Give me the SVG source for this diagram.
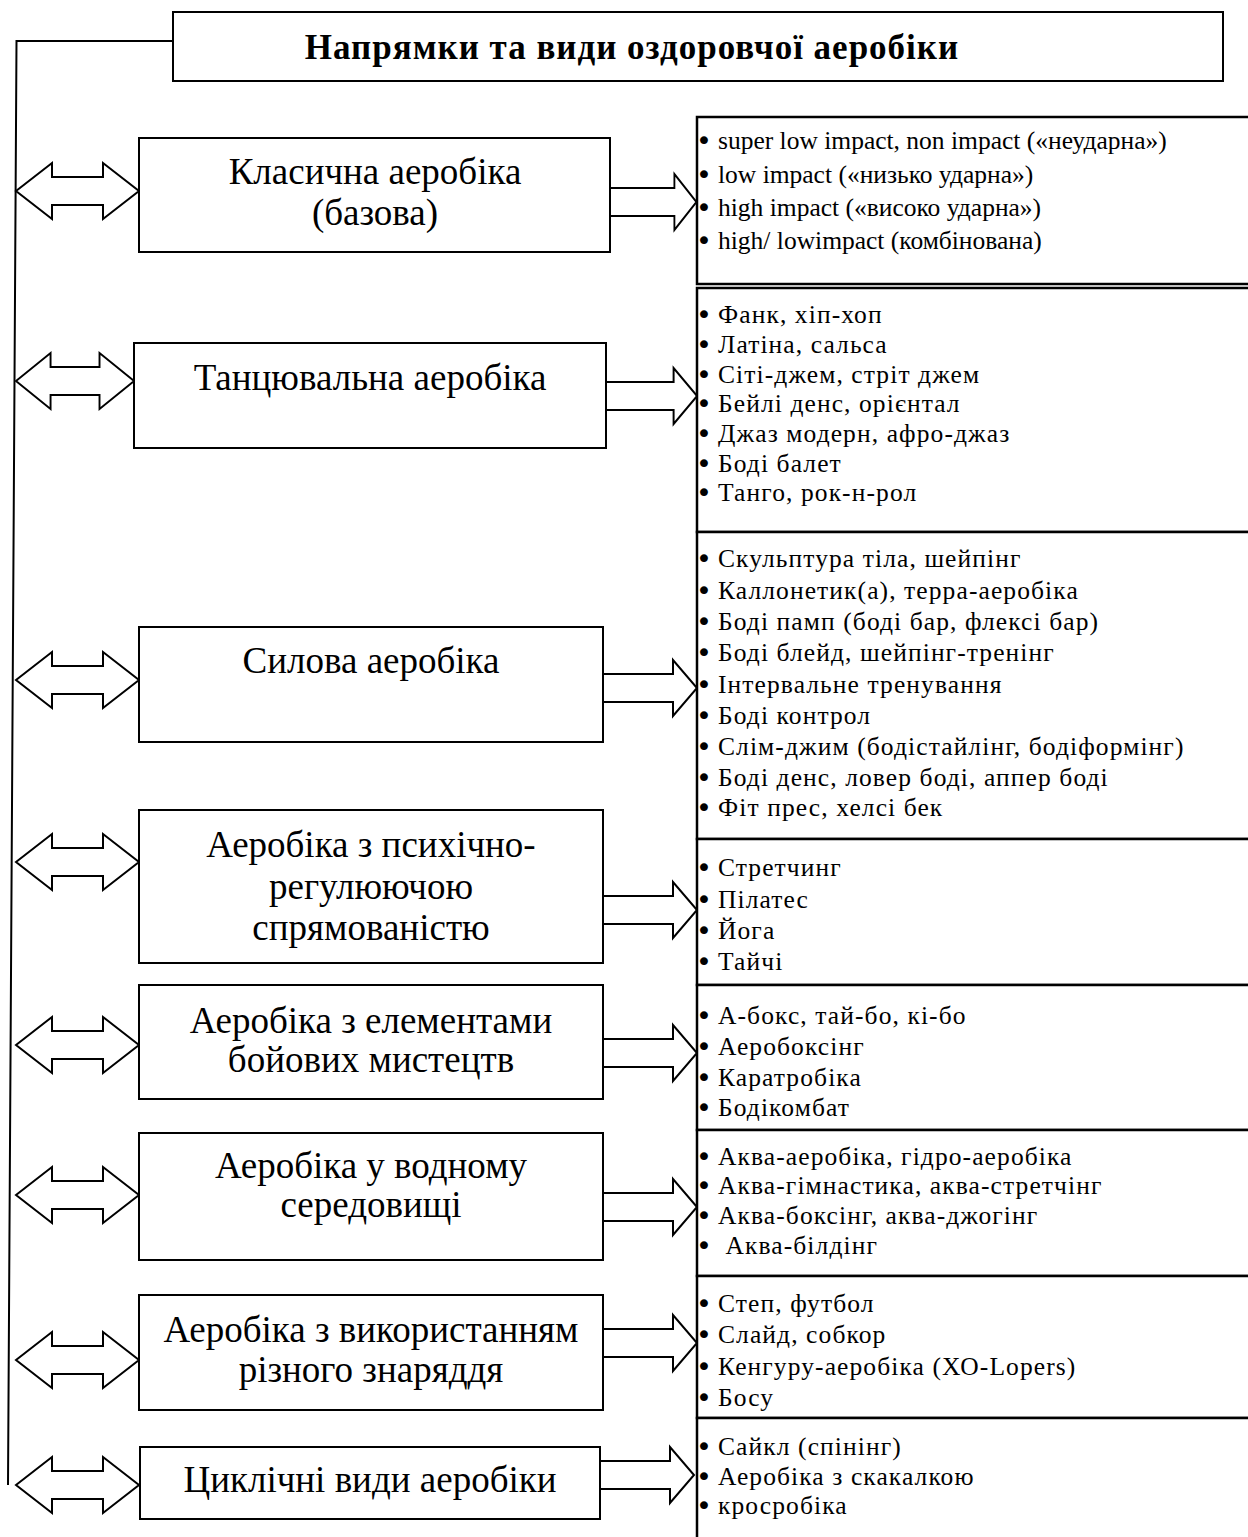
<svg xmlns="http://www.w3.org/2000/svg" width="1248" height="1537" viewBox="0 0 1248 1537">
<style>
.box{fill:#fff;stroke:#000;stroke-width:2}
.lbox{fill:#fff;stroke:#000;stroke-width:2.5}
.arr{fill:#fff;stroke:#000;stroke-width:2;stroke-linejoin:miter}
.ln{fill:none;stroke:#000;stroke-width:2}
.title{font-family:"Liberation Serif","DejaVu Serif",serif;font-size:35px;letter-spacing:1px;font-weight:bold;text-anchor:middle;fill:#000}
.node{font-family:"Liberation Serif","DejaVu Serif",serif;font-size:37px;text-anchor:middle;fill:#000}
.item{font-family:"Liberation Serif","DejaVu Serif",serif;font-size:25.5px;fill:#000}
.cy{letter-spacing:1.1px}
.bul{font-family:"DejaVu Sans",sans-serif;font-size:27px;fill:#000}
</style>
<defs>
<path id="dbl" d="M0,0 L36,-28 L36,-14 L87,-14 L87,-28 L123,0 L87,28 L87,14 L36,14 L36,28 Z"/>
<path id="one" d="M0,-14 L70,-14 L70,-28 L94,0 L70,28 L70,14 L0,14 Z"/>
</defs>

<g id="connectors">
<polyline class="ln" points="173,41 16.5,41 8,1485"/>
<use href="#dbl" class="arr" x="16" y="191"/>
<use href="#dbl" class="arr" transform="translate(16,381) scale(0.96,1)"/>
<use href="#dbl" class="arr" x="16" y="680"/>
<use href="#dbl" class="arr" x="16" y="862"/>
<use href="#dbl" class="arr" x="16" y="1045"/>
<use href="#dbl" class="arr" x="16" y="1195"/>
<use href="#dbl" class="arr" x="16" y="1360"/>
<use href="#dbl" class="arr" x="16" y="1485"/>
<use href="#one" class="arr" transform="translate(610,202) scale(0.92,1)"/>
<use href="#one" class="arr" transform="translate(605,396) scale(0.98,1)"/>
<use href="#one" class="arr" x="603" y="688"/>
<use href="#one" class="arr" x="603" y="910"/>
<use href="#one" class="arr" x="603" y="1053"/>
<use href="#one" class="arr" x="603" y="1207"/>
<use href="#one" class="arr" x="603" y="1343"/>
<use href="#one" class="arr" x="600" y="1475"/>
</g>

<g id="title">
<rect class="box" x="173" y="12" width="1050" height="69"/>
<text class="title" x="632" y="59">Напрямки та види оздоровчої аеробіки</text>
</g>

<g id="n1">
<rect class="box" x="139" y="138" width="471" height="114"/>
<text class="node" x="375" y="184">Класична аеробіка</text>
<text class="node" x="375" y="225">(базова)</text>
</g>
<g id="n2">
<rect class="box" x="134" y="343" width="472" height="105"/>
<text class="node" x="370" y="390">Танцювальна аеробіка</text>
</g>
<g id="n3">
<rect class="box" x="139" y="627" width="464" height="115"/>
<text class="node" x="371" y="673">Силова аеробіка</text>
</g>
<g id="n4">
<rect class="box" x="139" y="810" width="464" height="153"/>
<text class="node" x="371" y="857">Аеробіка з психічно-</text>
<text class="node" x="371" y="899">регулюючою</text>
<text class="node" x="371" y="940">спрямованістю</text>
</g>
<g id="n5">
<rect class="box" x="139" y="985" width="464" height="114"/>
<text class="node" x="371" y="1033">Аеробіка з елементами</text>
<text class="node" x="371" y="1072">бойових мистецтв</text>
</g>
<g id="n6">
<rect class="box" x="139" y="1133" width="464" height="127"/>
<text class="node" x="371" y="1178">Аеробіка у водному</text>
<text class="node" x="371" y="1217">середовищі</text>
</g>
<g id="n7">
<rect class="box" x="139" y="1295" width="464" height="115"/>
<text class="node" x="371" y="1342">Аеробіка з використанням</text>
<text class="node" x="371" y="1382">різного знаряддя</text>
</g>
<g id="n8">
<rect class="box" x="140" y="1447" width="460" height="72"/>
<text class="node" x="370" y="1492">Циклічні види аеробіки</text>
</g>

<g id="l1">
<rect class="lbox" x="697" y="117" width="600" height="167"/>
<text class="bul" x="696" y="150">•</text><text class="item" x="718" y="149">super low impact, non impact («неударна»)</text>
<text class="bul" x="696" y="184">•</text><text class="item" x="718" y="183">low impact («низько ударна»)</text>
<text class="bul" x="696" y="217">•</text><text class="item" x="718" y="216">high impact («високо ударна»)</text>
<text class="bul" x="696" y="250">•</text><text class="item" x="718" y="249">high/ lowimpact (комбінована)</text>
</g>
<g id="l2" class="cy">
<rect class="lbox" x="697" y="288" width="600" height="244"/>
<text class="bul" x="696" y="324">•</text><text class="item" x="718" y="323">Фанк, хіп-хоп</text>
<text class="bul" x="696" y="354">•</text><text class="item" x="718" y="353">Латіна, сальса</text>
<text class="bul" x="696" y="384">•</text><text class="item" x="718" y="383">Сіті-джем, стріт джем</text>
<text class="bul" x="696" y="413">•</text><text class="item" x="718" y="412">Бейлі денс, орієнтал</text>
<text class="bul" x="696" y="443">•</text><text class="item" x="718" y="442">Джаз модерн, афро-джаз</text>
<text class="bul" x="696" y="473">•</text><text class="item" x="718" y="472">Боді балет</text>
<text class="bul" x="696" y="502">•</text><text class="item" x="718" y="501">Танго, рок-н-рол</text>
</g>
<g id="l3" class="cy">
<rect class="lbox" x="697" y="532" width="600" height="307"/>
<text class="bul" x="696" y="568">•</text><text class="item" x="718" y="567">Скульптура тіла, шейпінг</text>
<text class="bul" x="696" y="600">•</text><text class="item" x="718" y="599">Каллонетик(а), терра-аеробіка</text>
<text class="bul" x="696" y="631">•</text><text class="item" x="718" y="630">Боді памп (боді бар, флексі бар)</text>
<text class="bul" x="696" y="662">•</text><text class="item" x="718" y="661">Боді блейд, шейпінг-тренінг</text>
<text class="bul" x="696" y="694">•</text><text class="item" x="718" y="693">Інтервальне тренування</text>
<text class="bul" x="696" y="725">•</text><text class="item" x="718" y="724">Боді контрол</text>
<text class="bul" x="696" y="756">•</text><text class="item" x="718" y="755">Слім-джим (бодістайлінг, бодіформінг)</text>
<text class="bul" x="696" y="787">•</text><text class="item" x="718" y="786">Боді денс, ловер боді, аппер боді</text>
<text class="bul" x="696" y="817">•</text><text class="item" x="718" y="816">Фіт прес, хелсі бек</text>
</g>
<g id="l4" class="cy">
<rect class="lbox" x="697" y="839" width="600" height="146"/>
<text class="bul" x="696" y="877">•</text><text class="item" x="718" y="876">Стретчинг</text>
<text class="bul" x="696" y="909">•</text><text class="item" x="718" y="908">Пілатес</text>
<text class="bul" x="696" y="940">•</text><text class="item" x="718" y="939">Йога</text>
<text class="bul" x="696" y="971">•</text><text class="item" x="718" y="970">Тайчі</text>
</g>
<g id="l5" class="cy">
<rect class="lbox" x="697" y="985" width="600" height="145"/>
<text class="bul" x="696" y="1025">•</text><text class="item" x="718" y="1024">А-бокс, тай-бо, кі-бо</text>
<text class="bul" x="696" y="1056">•</text><text class="item" x="718" y="1055">Аеробоксінг</text>
<text class="bul" x="696" y="1087">•</text><text class="item" x="718" y="1086">Каратробіка</text>
<text class="bul" x="696" y="1117">•</text><text class="item" x="718" y="1116">Бодікомбат</text>
</g>
<g id="l6" class="cy">
<rect class="lbox" x="697" y="1130" width="600" height="146"/>
<text class="bul" x="696" y="1166">•</text><text class="item" x="718" y="1165">Аква-аеробіка, гідро-аеробіка</text>
<text class="bul" x="696" y="1195">•</text><text class="item" x="718" y="1194">Аква-гімнастика, аква-стретчінг</text>
<text class="bul" x="696" y="1225">•</text><text class="item" x="718" y="1224">Аква-боксінг, аква-джогінг</text>
<text class="bul" x="696" y="1255">•</text><text class="item" x="718" y="1254" xml:space="preserve"> Аква-білдінг</text>
</g>
<g id="l7" class="cy">
<rect class="lbox" x="697" y="1276" width="600" height="142"/>
<text class="bul" x="696" y="1313">•</text><text class="item" x="718" y="1312">Степ, футбол</text>
<text class="bul" x="696" y="1344">•</text><text class="item" x="718" y="1343">Слайд, собкор</text>
<text class="bul" x="696" y="1376">•</text><text class="item" x="718" y="1375">Кенгуру-аеробіка (ХО-Lopers)</text>
<text class="bul" x="696" y="1407">•</text><text class="item" x="718" y="1406">Босу</text>
</g>
<g id="l8" class="cy">
<rect class="lbox" x="697" y="1418" width="600" height="150"/>
<text class="bul" x="696" y="1456">•</text><text class="item" x="718" y="1455">Сайкл (спінінг)</text>
<text class="bul" x="696" y="1486">•</text><text class="item" x="718" y="1485">Аеробіка з скакалкою</text>
<text class="bul" x="696" y="1515">•</text><text class="item" x="718" y="1514">кросробіка</text>
</g>
</svg>
